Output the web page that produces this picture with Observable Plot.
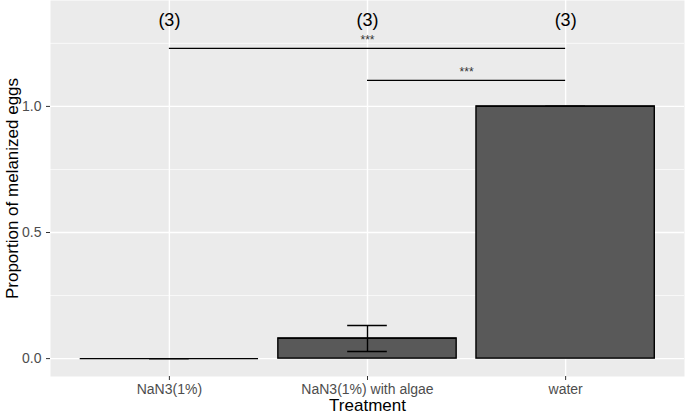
<!DOCTYPE html>
<html>
<head>
<meta charset="utf-8">
<script src="https://cdn.jsdelivr.net/npm/d3@7"></script>
<script src="https://cdn.jsdelivr.net/npm/@observablehq/plot@0.6"></script>
<style>
  html, body { margin: 0; padding: 0; background: #ffffff; }
  #chart svg { display: block; }
</style>
</head>
<body>
<div id="chart"></div>
<script>
const categories = ["NaN3(1%)", "NaN3(1%) with algae", "water"];
const means = [0, 0.08, 1.0];
const lower = [0, 0.028, 1.0];
const upper = [0, 0.131, 1.0];
const counts = [3, 3, 3];
const compFrom = [1, 2];
const compTo = [3, 3];
const compY = [1.23, 1.103];
const compLabel = ["***", "***"];
const countLabelY = 1.34;
const yTicks = [0, 0.5, 1.0];
const yMinor = [0.25, 0.75, 1.25];

const bars = categories.map((c, i) => ({
  i: i + 1, name: c, mean: means[i], lo: lower[i], hi: upper[i], n: counts[i]
}));
const comps = compFrom.map((f, k) => ({ from: f, to: compTo[k], y: compY[k], label: compLabel[k] }));

const font = "'Liberation Sans', Arial, Helvetica, sans-serif";

const chart = Plot.plot({
  width: 685,
  height: 416,
  marginLeft: 50,
  marginRight: 1,
  marginTop: 0,
  marginBottom: 40,
  style: { fontFamily: font, fontSize: "14px", background: "#ffffff" },
  x: { domain: [0.4, 3.6], axis: null },
  y: { domain: [-0.071, 1.42], axis: null },
  marks: [
    Plot.frame({ fill: "#EBEBEB", stroke: null }),
    Plot.ruleY(yMinor, { stroke: "#ffffff", strokeWidth: 0.7 }),
    Plot.ruleY(yTicks, { stroke: "#ffffff", strokeWidth: 1.4 }),
    Plot.ruleX(bars, { x: "i", stroke: "#ffffff", strokeWidth: 1.4 }),
    Plot.rectY(bars, {
      x1: d => d.i - 0.45, x2: d => d.i + 0.45, y1: 0, y2: "mean",
      fill: "#595959", stroke: "#000000", strokeWidth: 1.4
    }),
    Plot.ruleY(bars, { y: "mean", x1: d => d.i - 0.45, x2: d => d.i + 0.45, stroke: "#000000", strokeWidth: 1.4 }),
    Plot.ruleX(bars, { x: "i", y1: "lo", y2: "hi", stroke: "#000000", strokeWidth: 1.4 }),
    Plot.ruleY(bars, { y: "lo", x1: d => d.i - 0.1, x2: d => d.i + 0.1, stroke: "#000000", strokeWidth: 1.4 }),
    Plot.ruleY(bars, { y: "hi", x1: d => d.i - 0.1, x2: d => d.i + 0.1, stroke: "#000000", strokeWidth: 1.4 }),
    Plot.ruleY(comps, { y: "y", x1: "from", x2: "to", stroke: "#000000", strokeWidth: 1.3 }),
    Plot.text(comps, {
      x: d => (d.from + d.to) / 2, y: "y", text: "label", dy: -8,
      fontSize: 12, fill: "#333333"
    }),
    Plot.text(bars, {
      x: "i", y: () => countLabelY, text: d => `(${d.n})`,
      fontSize: 18, fill: "#000000"
    }),
    Plot.axisY(yTicks, {
      tickFormat: d3.format(".1f"), tickSize: 4, tickPadding: 5,
      fontSize: 14, color: "#4D4D4D", stroke: "#333333", label: null
    }),
    Plot.axisX([1, 2, 3], {
      tickFormat: d => categories[d - 1], tickSize: 4, tickPadding: 3.5,
      fontSize: 14, color: "#4D4D4D", stroke: "#333333", label: null
    }),
    Plot.text(["Treatment"], { frameAnchor: "bottom", dy: 34.5, fontSize: 17, fill: "#000000" }),
    Plot.text(["Proportion of melanized eggs"], {
      frameAnchor: "left", rotate: -90, dx: -38, textAnchor: "middle", fontSize: 17, fill: "#000000"
    })
  ]
});
document.getElementById("chart").appendChild(chart);
</script>
</body>
</html>
